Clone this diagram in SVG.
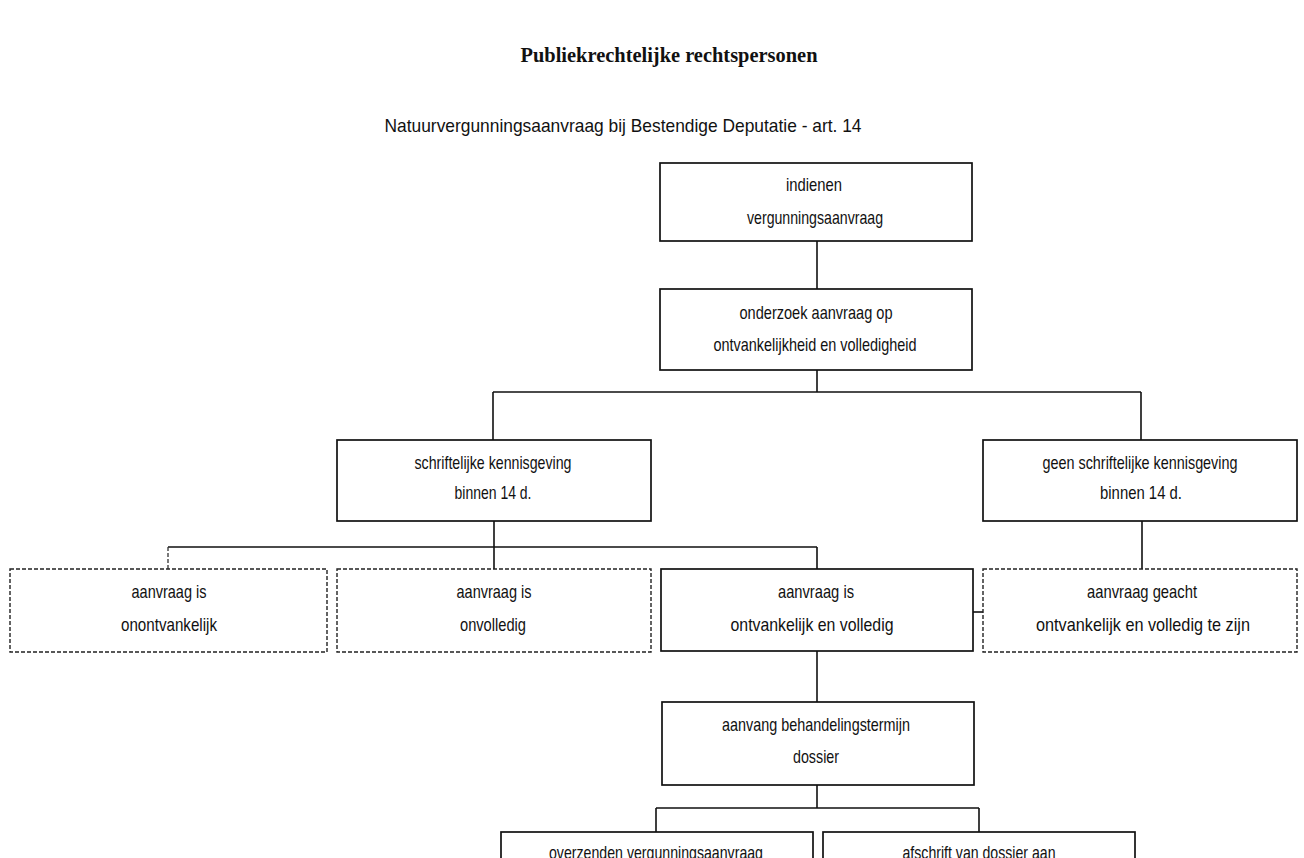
<svg xmlns="http://www.w3.org/2000/svg" width="1304" height="858" viewBox="0 0 1304 858">
<style>
.bg{fill:#ffffff}
.box{fill:#ffffff;stroke:#111;stroke-width:1.7}
.dbox{fill:#ffffff;stroke:#222;stroke-width:1.4;stroke-dasharray:4 2}
.t{font-family:"Liberation Sans Narrow","Liberation Sans",Arial,sans-serif;font-size:18.5px;fill:#111;text-anchor:middle}
.title{font-family:"Liberation Serif","Times New Roman",serif;font-size:20px;font-weight:bold;fill:#111;text-anchor:middle}
.c{fill:none;stroke:#111;stroke-width:1.6}
.cd{fill:none;stroke:#333;stroke-width:1.3;stroke-dasharray:4 2}
</style>
<rect class="bg" x="0" y="0" width="1304" height="858"/>
<text class="title" x="669" y="62" textLength="297" lengthAdjust="spacingAndGlyphs">Publiekrechtelijke rechtspersonen</text>
<text class="t" x="623" y="132" textLength="477" lengthAdjust="spacingAndGlyphs">Natuurvergunningsaanvraag bij Bestendige Deputatie - art. 14</text>

<g id="connectors">
<path class="c" d="M817 241 V289"/>
<path class="c" d="M817 370 V392 M493 392 H1141 M493 392 V440 M1141 392 V440"/>
<path class="c" d="M494 521 V547 M168 547 H817 M494 547 V569 M817 547 V569"/>
<path class="cd" d="M168 547 V569"/>
<path class="c" d="M1142 521 V569"/>
<path class="c" d="M973 612 H983"/>
<path class="c" d="M817 651 V702"/>
<path class="c" d="M817 785 V808 M656 808 H979 M656 808 V832 M979 808 V832"/>
</g>

<g id="n1">
<rect class="box" x="660" y="163" width="312" height="78"/>
<text class="t" x="814" y="191" textLength="56" lengthAdjust="spacingAndGlyphs">indienen</text>
<text class="t" x="815" y="224" textLength="136" lengthAdjust="spacingAndGlyphs">vergunningsaanvraag</text>
</g>
<g id="n2">
<rect class="box" x="660" y="289" width="312" height="81"/>
<text class="t" x="816" y="319" textLength="153" lengthAdjust="spacingAndGlyphs">onderzoek aanvraag op</text>
<text class="t" x="815" y="351" textLength="203" lengthAdjust="spacingAndGlyphs">ontvankelijkheid en volledigheid</text>
</g>
<g id="n3">
<rect class="box" x="337" y="440" width="314" height="81"/>
<text class="t" x="493" y="469" textLength="157" lengthAdjust="spacingAndGlyphs">schriftelijke kennisgeving</text>
<text class="t" x="493" y="499" textLength="77" lengthAdjust="spacingAndGlyphs">binnen 14 d.</text>
</g>
<g id="n4">
<rect class="box" x="983" y="440" width="314" height="81"/>
<text class="t" x="1140" y="469" textLength="195" lengthAdjust="spacingAndGlyphs">geen schriftelijke kennisgeving</text>
<text class="t" x="1141" y="499" textLength="82" lengthAdjust="spacingAndGlyphs">binnen 14 d.</text>
</g>
<g id="n5">
<rect class="dbox" x="10" y="569" width="317" height="83"/>
<text class="t" x="169" y="598" textLength="75" lengthAdjust="spacingAndGlyphs">aanvraag is</text>
<text class="t" x="169" y="631" textLength="96" lengthAdjust="spacingAndGlyphs">onontvankelijk</text>
</g>
<g id="n6">
<rect class="dbox" x="337" y="569" width="314" height="83"/>
<text class="t" x="494" y="598" textLength="75" lengthAdjust="spacingAndGlyphs">aanvraag is</text>
<text class="t" x="493" y="631" textLength="66" lengthAdjust="spacingAndGlyphs">onvolledig</text>
</g>
<g id="n7">
<rect class="box" x="661" y="569" width="312" height="82"/>
<text class="t" x="816" y="598" textLength="76" lengthAdjust="spacingAndGlyphs">aanvraag is</text>
<text class="t" x="812" y="631" textLength="163" lengthAdjust="spacingAndGlyphs">ontvankelijk en volledig</text>
</g>
<g id="n8">
<rect class="dbox" x="983" y="569" width="314" height="83"/>
<text class="t" x="1142" y="598" textLength="110" lengthAdjust="spacingAndGlyphs">aanvraag geacht</text>
<text class="t" x="1143" y="631" textLength="214" lengthAdjust="spacingAndGlyphs">ontvankelijk en volledig te zijn</text>
</g>
<g id="n9">
<rect class="box" x="662" y="702" width="312" height="83"/>
<text class="t" x="816" y="731" textLength="188" lengthAdjust="spacingAndGlyphs">aanvang behandelingstermijn</text>
<text class="t" x="816" y="763" textLength="46" lengthAdjust="spacingAndGlyphs">dossier</text>
</g>
<g id="n10">
<rect class="box" x="501" y="832" width="312" height="60"/>
<text class="t" x="656" y="859" textLength="214" lengthAdjust="spacingAndGlyphs">overzenden vergunningsaanvraag</text>
</g>
<g id="n11">
<rect class="box" x="823" y="832" width="312" height="60"/>
<text class="t" x="979" y="859" textLength="153" lengthAdjust="spacingAndGlyphs">afschrift van dossier aan</text>
</g>
</svg>
